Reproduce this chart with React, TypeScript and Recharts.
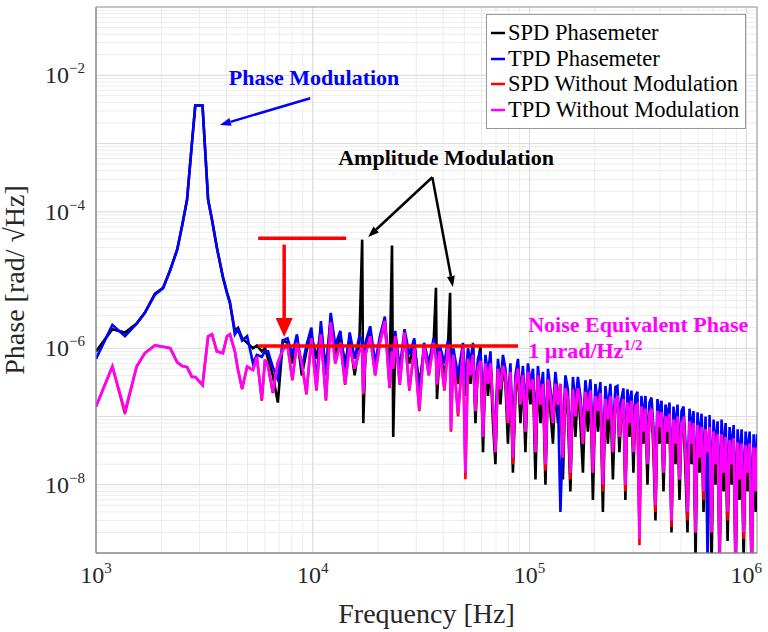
import React from 'react';
import {
  LineChart, Line, CartesianGrid, XAxis, YAxis, Legend,
  ReferenceLine, ReferenceDot, ReferenceArea,
} from 'recharts';

// frequency bins [Hz]
const freqHz = [
  1000, 1190, 1360, 1540, 1680, 1870, 2040, 2200, 2370, 2500, 2630, 2770, 2870, 3100, 3290, 3430,
  3610, 3850, 4020, 4150, 4370, 4520, 4720, 4980, 5300, 5520, 5820, 6020, 6220, 6540, 6900, 7280,
  7650, 8050, 8450, 8900, 9350, 9850, 10400, 10900, 11500, 12100, 12700, 13400, 14100, 14800, 15600,
  16400, 16900, 17100, 17500, 18400, 19400, 20400, 21500, 22600, 23200, 23500, 24000, 25200, 26500,
  27900, 29400, 31000, 32600, 34300, 36100, 37000, 37400, 38500, 40500, 42000, 43000, 43400, 44500,
  46800, 49300,
  50600, 52000, 53400, 54800, 56300, 57800, 59400, 61000, 62600, 64300, 66000, 67800, 69600, 71500,
  73400, 75400, 77400, 79500, 81600, 83800, 86100, 88400, 90800, 93200, 95700, 98300, 101000, 103700,
  106500, 109300, 112300, 115300, 118400, 121600, 124800, 128200, 131600, 135200, 138800, 142500,
  146400, 150300, 154300, 158500, 162800, 167100, 171600, 176300, 181000, 185900, 190900, 196000,
  201300, 206700, 212200, 217900, 223800, 229800, 236000, 242400, 248900,
  254300, 259700, 265300, 271000, 276800, 282800, 288900, 295100, 301400, 307900, 314500, 321300,
  328200, 335300, 342500, 349900, 357400, 365100, 372900, 380900, 389100, 397500, 406000, 414800,
  423700, 432800, 442100, 451600, 461300, 471300, 481400, 491800, 502300, 513100, 524200, 535400,
  547000, 558700, 570700, 583000, 595600, 608400, 621500, 634800, 648500, 662400, 676700, 691200,
  706100, 721300, 736800, 752600, 768800, 785400, 802300, 819500, 837100, 855200, 873600, 892300,
  911500, 931100, 951100, 971600, 992500, 1013800, 1035600, 1057900, 1080600, 1103900, 1120000,
];

// SPD phasemeter [rad/sqrt(Hz)]
const spdPhasemeter = [
  9e-7, 1.9e-6, 1.7e-6, 2.3e-6, 3.3e-6, 6.3e-6, 7.7e-6, 1.4e-5, 2.8e-5, 6.4e-5, 1.5e-4, 1.0e-3, 3.6e-3, 3.6e-3, 1.5e-4, 7.6e-5,
  3.0e-5, 1.1e-5, 6.5e-6, 4.5e-6, 1.8e-6, 2.0e-6, 1.4e-6, 1.2e-6, 1.0e-6, 1.1e-6, 9e-7, 1.0e-6, 7e-7, 4e-7, 1.6e-7, 1.3e-6,
  1.2e-6, 6e-7, 1.5e-6, 4e-7, 9e-7, 1.6e-6, 7e-7, 1.9e-6, 5e-7, 2.6e-6, 8e-7, 1.5e-6, 6e-7, 1.4e-6, 4e-7,
  1.2e-6, 3.9e-5, 8e-8, 9e-7, 1.7e-6, 5e-7, 1.3e-6, 2.2e-6, 4e-7, 3.2e-5, 5e-8, 1.2e-6, 5e-7, 1.4e-6,
  6e-7, 1.1e-6, 3e-7, 9e-7, 5e-7, 1.2e-6, 7.7e-6, 1.8e-7, 9e-7, 4e-7, 1.0e-6, 6.5e-6, 2e-7, 8e-7,
  3e-7, 9e-7,
  2e-7, 8e-7, 3e-7, 1.1e-6, 8e-8, 6e-7, 1.1e-6, 3e-8, 6e-7, 2e-7,
  6e-7, 8e-8, 2e-8, 5.5e-7, 1.5e-7, 5.5e-7, 3e-7, 4e-8, 4.5e-7, 1.5e-8,
  2e-7, 5e-7, 8e-8, 4e-7, 3e-8, 4.5e-7, 1.5e-7, 3.5e-7, 1.2e-8, 4e-7,
  8e-8, 3e-7, 1e-8, 3.5e-7, 1.2e-7, 4e-8, 3e-7, 8e-8, 3e-7, 1.2e-8,
  2.6e-7, 1e-7, 8e-9, 2.5e-7, 5e-8, 2.6e-7, 8e-8, 1.5e-8, 2.3e-7, 6e-8,
  2.4e-7, 6e-9, 2e-7, 6e-8, 2.2e-7, 4e-9, 1.8e-7, 4e-8, 2e-7, 1.2e-8, 1.8e-7,
  1.9e-7, 3e-8, 1.2e-7, 1.8e-7, 6e-9, 1.6e-7, 5e-8, 1.7e-7, 1.5e-8, 1.4e-7,
  1.5e-7, 3e-9, 1.4e-7, 4e-8, 1.3e-7, 1e-8, 1.1e-7, 1.3e-7, 3e-8, 3e-9,
  1.2e-7, 4e-8, 1.15e-7, 8e-9, 1e-7, 4e-8, 1.1e-7, 2e-9, 9e-8, 2e-8,
  1e-7, 6e-9, 8e-8, 9e-8, 1.5e-8, 2e-9, 8.5e-8, 2e-8, 8e-8, 8e-10,
  7.5e-8, 1.5e-8, 7e-8, 4e-9, 6.5e-8, 1.5e-8, 7e-8, 6e-10, 6e-8, 1e-8,
  5.5e-8, 5e-10, 5.5e-8, 8e-9, 5e-8, 1.5e-9, 4.5e-8, 1e-8, 4.8e-8, 4e-10,
  4.2e-8, 6e-9, 4e-8, 8e-10, 3.8e-8, 8e-9, 4e-8, 4e-10, 3.5e-8, 4e-9, 3.5e-8,
];

// TPD phasemeter
const tpdPhasemeter = [
  7e-7, 2.2e-6, 1.5e-6, 2.3e-6, 3.3e-6, 6.1e-6, 7.6e-6, 1.4e-5, 2.8e-5, 6.4e-5, 1.5e-4, 1.0e-3, 3.6e-3, 3.6e-3, 1.5e-4, 7.6e-5,
  3.0e-5, 1.1e-5, 6.5e-6, 4.8e-6, 1.6e-6, 1.9e-6, 1.3e-6, 1.5e-6, 6e-7, 8e-7, 7.5e-7, 9e-7, 9e-7, 5.3e-7, 3.5e-7, 1.3e-6,
  1.4e-6, 8e-7, 1.6e-6, 5e-7, 1.1e-6, 2.0e-6, 3.2e-7, 2.5e-6, 4e-7, 3.3e-6, 1.1e-6, 1.8e-6, 4.5e-7, 1.7e-6, 7e-7,
  1.5e-6, 1.3e-6, 4e-7, 1.2e-6, 2.1e-6, 6e-7, 1.5e-6, 2.9e-6, 4e-7, 1.1e-6, 6e-7, 1.8e-6, 5e-7, 1.9e-6,
  8e-7, 1.4e-6, 2e-7, 1.2e-6, 6e-7, 1.4e-6, 9e-7, 4e-7, 1.1e-6, 6e-7, 1.3e-6, 8e-7, 2e-7, 1.0e-6,
  4e-7, 1.2e-6,
  3e-7, 1.0e-6, 6e-7, 1.2e-6, 2e-7, 7e-7, 9e-7, 1.2e-7, 8e-7, 4e-7,
  9e-7, 1.2e-7, 8e-8, 7e-7, 3e-7, 8e-7, 5e-7, 1.5e-7, 6e-7, 5e-8,
  4e-7, 7e-7, 2e-7, 5.5e-7, 1.2e-7, 6e-7, 3e-7, 5e-7, 7e-8, 5.5e-7,
  2e-7, 4.5e-7, 5e-8, 5e-7, 2.5e-7, 1.2e-7, 4.5e-7, 2e-7, 4e-9, 6e-8,
  4e-7, 2.5e-7, 3e-8, 3.8e-7, 1.5e-7, 3.8e-7, 2e-7, 6e-8, 3.4e-7, 1.5e-7,
  3.5e-7, 4e-8, 3e-7, 1.5e-7, 3.2e-7, 2e-8, 2.8e-7, 1.2e-7, 3e-7, 5e-8, 2.7e-7,
  2.8e-7, 8e-8, 1.8e-7, 2.6e-7, 2e-8, 2.5e-7, 1.2e-7, 2.4e-7, 5e-8, 2e-7,
  2.3e-7, 1e-8, 2e-7, 8e-8, 2e-7, 3e-8, 1.6e-7, 1.9e-7, 7e-8, 1.2e-8,
  1.8e-7, 1e-7, 1.7e-7, 2.5e-8, 1.5e-7, 9e-8, 1.6e-7, 8e-9, 1.4e-7, 6e-8,
  1.5e-7, 2e-8, 1.2e-7, 1.4e-7, 4e-8, 1e-8, 1.3e-7, 6e-8, 1.2e-7, 5e-9,
  1.15e-7, 4e-8, 1.1e-7, 1.5e-8, 1e-7, 8e-10, 1.05e-7, 6e-9, 9e-8, 3e-8,
  8.5e-8, 4e-9, 9e-8, 2.5e-8, 8e-8, 8e-9, 7e-8, 3e-8, 7.5e-8, 3e-9,
  6.5e-8, 2e-8, 6.5e-8, 5e-9, 6e-8, 2.5e-8, 6e-8, 3e-9, 5.5e-8, 1.2e-8, 5.5e-8,
];

// SPD without modulation
const spdNoMod = [
  1.4e-7, 5.4e-7, 1.1e-7, 5.4e-7, 8.5e-7, 1.1e-6, 1.05e-6, 1.0e-6, 6.2e-7, 5.5e-7, 5.3e-7, 3.8e-7, 3.8e-7, 2.9e-7, 1.5e-6, 1.6e-6,
  9e-7, 8.5e-7, 1.5e-6, 1.6e-6, 9e-7, 4.8e-7, 2.5e-7, 5.4e-7, 4.8e-7, 7.5e-7, 1.7e-7, 6.8e-7, 5.4e-7, 2.2e-7, 6.2e-7, 9.5e-7,
  1.1e-6, 3.4e-7, 1.2e-6, 6e-7, 2.1e-7, 1.4e-6, 2.4e-7, 1.6e-6, 1.7e-7, 2.4e-6, 6e-7, 1.2e-6, 2.9e-7, 1.1e-6, 5e-7,
  9e-7, 1.0e-6, 2.1e-7, 8e-7, 1.5e-6, 4e-7, 1.2e-6, 2.5e-6, 2.6e-7, 9e-7, 5e-7, 1.5e-6, 2.9e-7, 1.7e-6,
  2.4e-7, 1.0e-6, 1.2e-7, 1.1e-6, 4e-7, 1.2e-6, 7e-7, 2.9e-7, 9e-7, 2.4e-7, 1.1e-6, 6e-7, 6e-8, 8e-7,
  1.0e-7, 1.0e-6,
  1.2e-8, 7e-7, 4e-7, 8e-7, 1.2e-7, 5e-7, 6.5e-7, 5e-8, 6e-7, 3e-7,
  6e-7, 1.5e-7, 3e-8, 5e-7, 2.5e-7, 5.5e-7, 4e-7, 8e-8, 4.5e-7, 2e-8,
  3e-7, 5e-7, 1.5e-7, 4e-7, 6e-8, 4.5e-7, 2.5e-7, 3.5e-7, 3e-8, 4e-7,
  1.5e-7, 3e-7, 1.6e-8, 3.5e-7, 2e-7, 8e-8, 3e-7, 1.5e-7, 3e-7, 2.5e-8,
  2.6e-7, 1.8e-7, 1.2e-8, 2.5e-7, 1e-7, 2.6e-7, 1.5e-7, 4e-8, 2.3e-7, 1.2e-7,
  2.4e-7, 1.5e-8, 2e-7, 1.2e-7, 2.2e-7, 8e-9, 1.8e-7, 9e-8, 2e-7, 3e-8, 1.8e-7,
  1.9e-7, 5e-8, 1.2e-7, 1.8e-7, 8e-9, 1.6e-7, 8e-8, 1.7e-7, 3e-8, 1.4e-7,
  1.5e-7, 1.3e-9, 1.4e-7, 6e-8, 1.3e-7, 2e-8, 1.1e-7, 1.3e-7, 5e-8, 4e-9,
  1.2e-7, 7e-8, 1.15e-7, 1.5e-8, 1e-7, 6e-8, 1.1e-7, 2.4e-9, 9e-8, 4e-8,
  1e-7, 1.2e-8, 8e-8, 9e-8, 3e-8, 3e-9, 8.5e-8, 4e-8, 8e-8, 2e-9,
  7.5e-8, 2.5e-8, 7e-8, 6e-9, 6.5e-8, 3e-8, 7e-8, 2e-9, 6e-8, 2e-8,
  5.5e-8, 1e-9, 5.5e-8, 1.5e-8, 5e-8, 3e-9, 4.5e-8, 2e-8, 4.8e-8, 7e-10,
  4.2e-8, 1.2e-8, 4e-8, 1.6e-9, 3.8e-8, 1.5e-8, 4e-8, 6e-10, 3.5e-8, 8e-9, 3.5e-8,
];

// TPD without modulation
const tpdNoMod = [
  1.4e-7, 5.4e-7, 1.2e-7, 5.4e-7, 8.5e-7, 1.1e-6, 1.05e-6, 1.0e-6, 6.2e-7, 5.5e-7, 5.3e-7, 3.8e-7, 3.8e-7, 2.9e-7, 1.5e-6, 1.6e-6,
  9e-7, 8.5e-7, 1.5e-6, 1.6e-6, 9e-7, 4.8e-7, 2.6e-7, 5.4e-7, 4.8e-7, 7.5e-7, 1.8e-7, 6.8e-7, 5.4e-7, 2.3e-7, 6.2e-7, 9.5e-7,
  1.1e-6, 3.5e-7, 1.2e-6, 6e-7, 2.2e-7, 1.4e-6, 2.5e-7, 1.6e-6, 1.8e-7, 2.4e-6, 6e-7, 1.2e-6, 3e-7, 1.1e-6, 5e-7,
  9e-7, 1.0e-6, 2.2e-7, 8e-7, 1.5e-6, 4e-7, 1.2e-6, 2.5e-6, 2.7e-7, 9e-7, 5e-7, 1.5e-6, 3e-7, 1.7e-6,
  2.5e-7, 1.0e-6, 1.25e-7, 1.1e-6, 4e-7, 1.2e-6, 7e-7, 3e-7, 9e-7, 2.5e-7, 1.1e-6, 6e-7, 6.4e-8, 8e-7,
  1.1e-7, 1.0e-6,
  1.5e-8, 7e-7, 4e-7, 8e-7, 1.2e-7, 5e-7, 6.5e-7, 5e-8, 6e-7, 3e-7,
  6e-7, 1.5e-7, 3e-8, 5e-7, 2.5e-7, 5.5e-7, 4e-7, 8e-8, 4.5e-7, 2.5e-8,
  3e-7, 5e-7, 1.5e-7, 4e-7, 6e-8, 4.5e-7, 2.5e-7, 3.5e-7, 3e-8, 4e-7,
  1.5e-7, 3e-7, 2e-8, 3.5e-7, 2e-7, 8e-8, 3e-7, 1.5e-7, 3e-7, 2.5e-8,
  2.6e-7, 1.8e-7, 1.5e-8, 2.5e-7, 1e-7, 2.6e-7, 1.5e-7, 4e-8, 2.3e-7, 1.2e-7,
  2.4e-7, 1.5e-8, 2e-7, 1.2e-7, 2.2e-7, 1e-8, 1.8e-7, 9e-8, 2e-7, 3e-8, 1.8e-7,
  1.9e-7, 5e-8, 1.2e-7, 1.8e-7, 1e-8, 1.6e-7, 8e-8, 1.7e-7, 3e-8, 1.4e-7,
  1.5e-7, 1.6e-9, 1.4e-7, 6e-8, 1.3e-7, 2e-8, 1.1e-7, 1.3e-7, 5e-8, 5e-9,
  1.2e-7, 7e-8, 1.15e-7, 1.5e-8, 1e-7, 6e-8, 1.1e-7, 3e-9, 9e-8, 4e-8,
  1e-7, 1.2e-8, 8e-8, 9e-8, 3e-8, 4e-9, 8.5e-8, 4e-8, 8e-8, 2e-9,
  7.5e-8, 2.5e-8, 7e-8, 8e-9, 6.5e-8, 3e-8, 7e-8, 2e-9, 6e-8, 2e-8,
  5.5e-8, 1e-9, 5.5e-8, 1.5e-8, 5e-8, 4e-9, 4.5e-8, 2e-8, 4.8e-8, 7e-10,
  4.2e-8, 1.2e-8, 4e-8, 2e-9, 3.8e-8, 1.5e-8, 4e-8, 6e-10, 3.5e-8, 8e-9, 3.5e-8,
];

const seriesNames = ['SPD Phasemeter', 'TPD Phasemeter', 'SPD Without Modulation', 'TPD Without Modulation'];
const seriesColors = ['#000000', '#0000ff', '#ff0000', '#ff00ff'];
const seriesKeys = ['spd', 'tpd', 'spdNoMod', 'tpdNoMod'];

const xTicks = [1e3, 1e4, 1e5, 1e6];
const yTicks = [1e-8, 1e-6, 1e-4, 1e-2];

const data = freqHz.map((f, i) => ({
  f,
  spd: spdPhasemeter[i],
  tpd: tpdPhasemeter[i],
  spdNoMod: spdNoMod[i],
  tpdNoMod: tpdNoMod[i],
}));

// log grid lines
const minorX: number[] = [];
for (let d = 1e3; d < 1.2e6; d *= 10) for (let k = 1; k < 10; k++) if (d * k <= 1.12e6) minorX.push(d * k);
const minorY: number[] = [];
for (let d = 1e-9; d < 1e-1; d *= 10) for (let k = 1; k < 10; k++) minorY.push(d * k);
const majorY = minorY.filter((v, i) => i % 9 === 0);

const FONT = '"Liberation Serif", "Times New Roman", serif';

const arrow = (color: string, w: number, head: number, headW: number) => (p: any) => {
  const { x1, y1, x2, y2 } = p;
  const dx = x2 - x1, dy = y2 - y1;
  const len = Math.hypot(dx, dy) || 1;
  const ux = dx / len, uy = dy / len;
  const bx = x2 - ux * head, by = y2 - uy * head;
  const px = (-uy * headW) / 2, py = (ux * headW) / 2;
  return (
    <g>
      <line x1={x1} y1={y1} x2={bx} y2={by} stroke={color} strokeWidth={w} />
      <polygon points={`${x2},${y2} ${bx + px},${by + py} ${bx - px},${by - py}`} fill={color} />
    </g>
  );
};

const plainLine = (color: string, w: number) => (p: any) => (
  <line x1={p.x1} y1={p.y1} x2={p.x2} y2={p.y2} stroke={color} strokeWidth={w} />
);

const textAt = (txt: React.ReactNode, color: string, anchor: 'start' | 'middle') => (p: any) => (
  <text x={p.cx} y={p.cy} textAnchor={anchor} fill={color} fontFamily={FONT} fontWeight="bold" fontSize={22}>
    {txt}
  </text>
);

const XTick = (props: any) => {
  const { x, y, payload } = props;
  const e = Math.round(Math.log10(payload.value));
  return (
    <text x={x} y={y + 22} textAnchor="middle" fontFamily={FONT} fontSize={24} fill="#262626">
      <tspan>10</tspan>
      <tspan dy={-10} fontSize={15}>{e}</tspan>
    </text>
  );
};

const YTick = (props: any) => {
  const { x, y, payload } = props;
  const e = Math.round(Math.log10(payload.value));
  return (
    <text x={x - 3} y={y + 8} textAnchor="end" fontFamily={FONT} fontSize={24} fill="#262626">
      <tspan>10</tspan>
      <tspan dy={-10} fontSize={15}>{`\u2212${-e}`}</tspan>
    </text>
  );
};

const LegendBox = () => (
  <div style={{ border: '1px solid #999', background: '#fff', padding: '5px 6px 5px 4px', fontFamily: FONT, fontSize: 22.5 }}>
    {seriesNames.map((name, i) => (
      <div key={name} style={{ display: 'flex', alignItems: 'center', height: 25.7, whiteSpace: 'nowrap' }}>
        <svg width={14} height={4} style={{ marginRight: 3 }}>
          <line x1={0} y1={2} x2={14} y2={2} stroke={seriesColors[i]} strokeWidth={2.5} />
        </svg>
        <span style={{ color: '#000' }}>{name}</span>
      </div>
    ))}
  </div>
);

export default function App() {
  return (
    <div style={{ position: 'relative', width: 768, height: 632, background: '#fff' }}>
      <style>{'html,body{margin:0;padding:0;overflow:hidden;background:#fff}'}</style>
      <LineChart width={768} height={632} data={data} margin={{ top: 7, right: 11, bottom: 0, left: 0 }}>
        <CartesianGrid horizontal vertical horizontalValues={minorY} verticalValues={minorX} stroke="#ececec" strokeWidth={1} />
        <CartesianGrid horizontal vertical horizontalValues={majorY} verticalValues={xTicks} stroke="#dcdcdc" strokeWidth={1} />
        <XAxis
          dataKey="f" type="number" scale="log" domain={[1000, 1.12e6]} allowDataOverflow
          ticks={xTicks} interval={0} tick={<XTick />} tickLine={false} height={79}
          axisLine={{ stroke: '#8c8c8c' }}
          label={{ value: 'Frequency [Hz]', position: 'insideBottom', offset: 9, fontFamily: FONT, fontSize: 28, fill: '#262626' }}
        />
        <YAxis
          type="number" scale="log" domain={[1e-9, 1e-1]} allowDataOverflow
          ticks={yTicks} interval={0} tick={<YTick />} tickLine={false} width={96}
          axisLine={{ stroke: '#8c8c8c' }}
          label={{ value: 'Phase [rad/ \u221AHz]', angle: -90, position: 'insideLeft', offset: 14, fontFamily: FONT, fontSize: 28, fill: '#262626', style: { textAnchor: 'middle' } }}
        />
        {seriesKeys.map((k, i) => (
          <Line
            key={k} name={seriesNames[i]} dataKey={k} stroke={seriesColors[i]} strokeWidth={2.6}
            dot={false} isAnimationActive={false}
          />
        ))}

        <ReferenceLine segment={[{ x: 5600, y: 1.08e-6 }, { x: 88500, y: 1.08e-6 }]} shape={plainLine('#ff0000', 3.5)} />
        <ReferenceLine segment={[{ x: 5600, y: 4.1e-5 }, { x: 14260, y: 4.1e-5 }]} shape={plainLine('#ff0000', 3.5)} />
        <ReferenceLine segment={[{ x: 7380, y: 3.3e-5 }, { x: 7380, y: 1.46e-6 }]} shape={arrow('#ff0000', 3.5, 19, 17)} />
        <ReferenceLine segment={[{ x: 9730, y: 4.6e-3 }, { x: 3730, y: 1.87e-3 }]} shape={arrow('#0000ff', 2.5, 11, 8)} />
        <ReferenceLine segment={[{ x: 35600, y: 3.2e-4 }, { x: 18000, y: 4.27e-5 }]} shape={arrow('#000000', 2.5, 11, 8)} />
        <ReferenceLine segment={[{ x: 35600, y: 3.2e-4 }, { x: 44300, y: 7.9e-6 }]} shape={arrow('#000000', 2.5, 11, 8)} />

        <ReferenceDot x={10140} y={7.2e-3} r={0} shape={textAt('Phase Modulation', '#0000ff', 'middle')} />
        <ReferenceDot x={13100} y={4.84e-4} r={0} shape={textAt('Amplitude Modulation', '#000000', 'start')} />
        <ReferenceDot x={98600} y={1.73e-6} r={0} shape={textAt('Noise Equivalent Phase', '#ff00ff', 'start')} />
        <ReferenceDot
          x={98600} y={7.2e-7} r={0}
          shape={textAt(<><tspan>1 µrad/Hz</tspan><tspan dy={-8} fontSize={15}>1/2</tspan></>, '#ff00ff', 'start')}
        />

        <ReferenceArea x1={1000} x2={1.12e6} y1={1e-9} y2={1e-1} fill="none" stroke="#8c8c8c" strokeWidth={1} ifOverflow="visible" />

        <Legend
          layout="vertical" align="center" verticalAlign="middle"
          wrapperStyle={{ position: 'absolute', left: 486, top: 14, width: 'auto', height: 'auto' }}
          content={<LegendBox />}
        />
      </LineChart>
    </div>
  );
}
